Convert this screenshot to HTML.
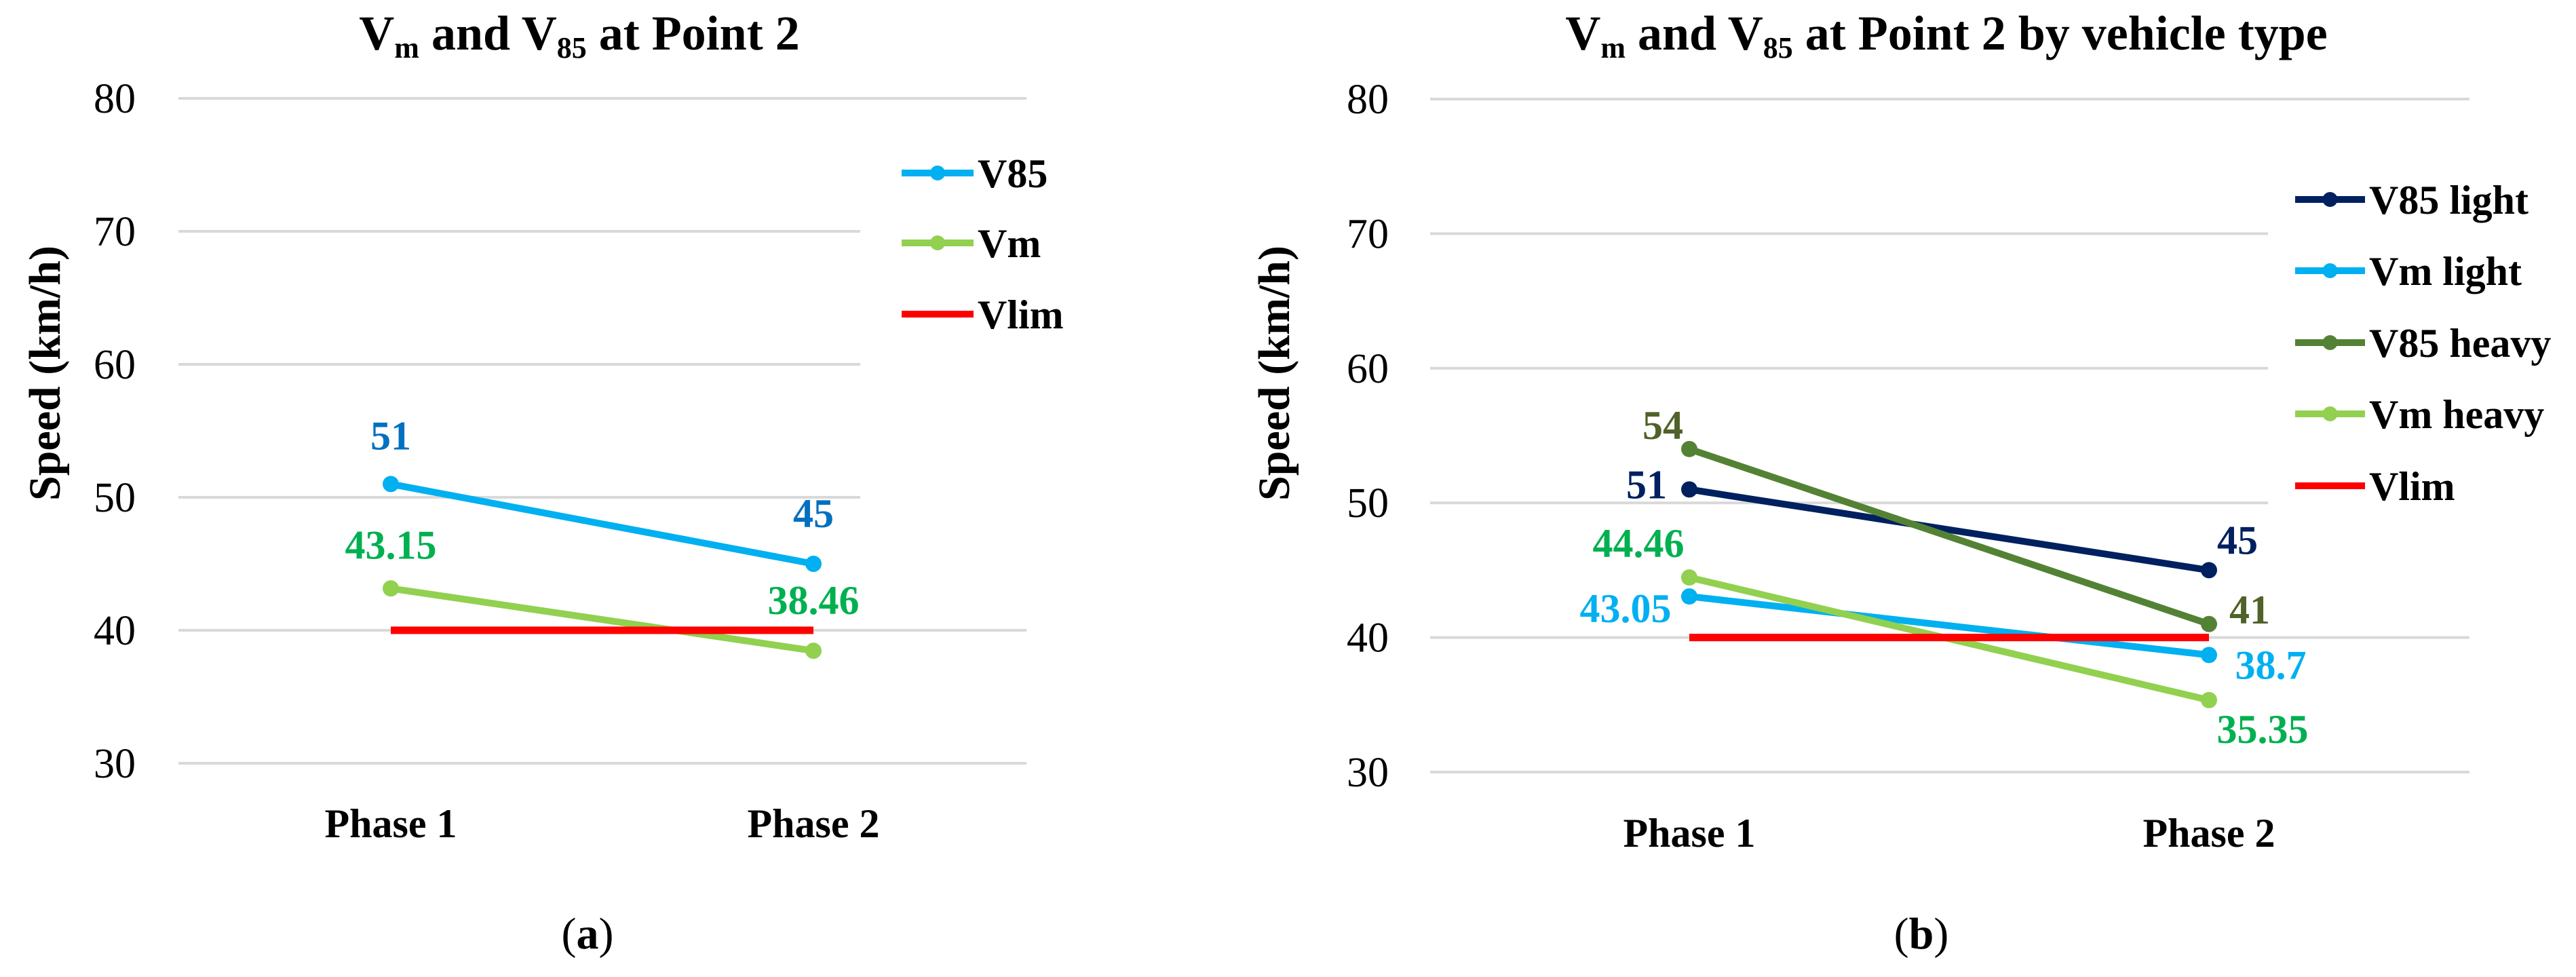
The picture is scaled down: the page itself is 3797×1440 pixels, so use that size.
<!DOCTYPE html>
<html><head><meta charset="utf-8"><style>
html,body{margin:0;padding:0;background:#fff;}
svg{display:block;font-family:"Liberation Serif",serif;}
</style></head><body>
<svg id="fig" width="3797" height="1440" viewBox="0 0 3797 1440" xmlns="http://www.w3.org/2000/svg">
<rect width="3797" height="1440" fill="#fff"/>
<g id="ca"></g>
<g id="cb"></g>
</svg>
<script>
const categories = ["Phase 1", "Phase 2"];
const yTicks = [30, 40, 50, 60, 70, 80];
const aV85 = [51, 45];
const aVm = [43.15, 38.46];
const aVlim = [40, 40];
const bV85Light = [51, 45];
const bVmLight = [43.05, 38.7];
const bV85Heavy = [54, 41];
const bVmHeavy = [44.46, 35.35];
const bVlim = [40, 40];

const NS = "http://www.w3.org/2000/svg";
function mk(parent, tag, attrs, text) {
  const e = document.createElementNS(NS, tag);
  for (const k in attrs) e.setAttribute(k, attrs[k]);
  if (text !== undefined) e.textContent = text;
  parent.appendChild(e);
  return e;
}

function drawChart(g, cfg) {
  const y = v => cfg.y80 + (80 - v) * (cfg.y30 - cfg.y80) / 50;
  const x = i => cfg.px[i];
  const t = mk(g, "text", {x: cfg.titleX, y: 73, "text-anchor": "middle", "font-size": 72, "font-weight": "bold", fill: "#000"});
  
  
  t.innerHTML = 'V<tspan font-size="44" dy="12">m</tspan><tspan dy="-12"> and V</tspan><tspan font-size="44" dy="12">85</tspan><tspan dy="-12"> at Point 2' + cfg.titleExtra + '</tspan>';
  yTicks.forEach(v => {
    const shortLine = v >= 50 && v <= 70;
    const gl = mk(g, "line", {x1: cfg.gx1, x2: shortLine ? cfg.gxShort : cfg.gx2, y1: y(v), y2: y(v), stroke: "#d9d9d9", "stroke-width": 4});
    
    
    const tl = mk(g, "text", {x: cfg.tickX, y: y(v) + 21, "text-anchor": "end", "font-size": 62, fill: "#000"}, String(v));
    
    
  });
  categories.forEach((c, i) => {
    const cl = mk(g, "text", {x: x(i), y: cfg.catY, "text-anchor": "middle", "font-size": 60, "font-weight": "bold", fill: "#000"}, c);
    
    
  });
  const yt = mk(g, "text", {x: 0, y: 0, "text-anchor": "middle", "font-size": 66, "font-weight": "bold", fill: "#000", transform: "translate(" + cfg.ytX + ",550) rotate(-90)"}, "Speed (km/h)");
  
  
  cfg.series.forEach(s => {
    const sg = mk(g, "g", {});
    
    
    const ln = mk(sg, "line", {x1: x(0), y1: y(s.data[0]), x2: x(1), y2: y(s.data[1]), stroke: s.color, "stroke-width": s.marker ? 10 : 11});
    
    
    if (s.marker) s.data.forEach((v, i) => {
      const c = mk(sg, "circle", {cx: x(i), cy: y(v), r: 12, fill: s.color});
      
      
    });
    if (s.labels) s.data.forEach((v, i) => {
      const L = s.labels[i];
      const lt = mk(sg, "text", {x: x(i) + L[0], y: y(v) + L[1], "text-anchor": "middle", "font-size": 60, "font-weight": "bold", fill: s.lcolor}, String(v));
      
      
    });
    const lg = mk(g, "g", {});
    
    
    mk(lg, "line", {x1: cfg.legX1, x2: cfg.legX2, y1: s.legY, y2: s.legY, stroke: s.color, "stroke-width": 10});
    if (s.marker) mk(lg, "circle", {cx: (cfg.legX1 + cfg.legX2) / 2, cy: s.legY, r: 11, fill: s.color});
    mk(lg, "text", {x: cfg.legX2 + 6, y: s.legY + 21, "font-size": 60, "font-weight": "bold", fill: "#000"}, s.name);
  });
  const sub = mk(g, "text", {x: cfg.subX, y: 1398, "text-anchor": "middle", "font-size": 66, fill: "#000"});
  
  
  sub.innerHTML = '(<tspan font-weight="bold">' + cfg.sub + '</tspan>)';
}

drawChart(document.getElementById("ca"), {
  y80: 145, y30: 1125, px: [576, 1199], gx1: 263, gx2: 1513, gxShort: 1268,
  titleX: 854, titleExtra: "", tickX: 200, catY: 1234, ytX: 88,
  legX1: 1329, legX2: 1435, subX: 866, sub: "a",
  series: [
    {key: "v85", name: "V85", data: aV85, color: "#00B0F0", lcolor: "#0070C0", marker: true, legY: 255, labels: [[0, -51], [0, -54]]},
    {key: "vm", name: "Vm", data: aVm, color: "#92D050", lcolor: "#00B050", marker: true, legY: 358, labels: [[0, -44], [0, -54]]},
    {key: "vlim", name: "Vlim", data: aVlim, color: "#FF0000", lcolor: "#FF0000", marker: false, legY: 463, labels: null}
  ]
});

drawChart(document.getElementById("cb"), {
  y80: 146, y30: 1138, px: [2490, 3256], gx1: 2108, gx2: 3640, gxShort: 3343,
  titleX: 2869, titleExtra: " by vehicle type", tickX: 2047, catY: 1248, ytX: 1900,
  legX1: 3383, legX2: 3486, subX: 2832, sub: "b",
  series: [
    {key: "v85-light", name: "V85 light", data: bV85Light, color: "#002060", lcolor: "#002060", marker: true, legY: 294, labels: [[-63, 13], [42, -24]]},
    {key: "vm-light", name: "Vm light", data: bVmLight, color: "#00B0F0", lcolor: "#00B0F0", marker: true, legY: 399, labels: [[-94, 38], [91, 35]]},
    {key: "v85-heavy", name: "V85 heavy", data: bV85Heavy, color: "#548235", lcolor: "#4F6228", marker: true, legY: 505, labels: [[-39, -15], [60, -1]]},
    {key: "vm-heavy", name: "Vm heavy", data: bVmHeavy, color: "#92D050", lcolor: "#00B050", marker: true, legY: 610, labels: [[-75, -30], [79, 63]]},
    {key: "vlim", name: "Vlim", data: bVlim, color: "#FF0000", lcolor: "#FF0000", marker: false, legY: 716, labels: null}
  ]
});
</script>
</body></html>
